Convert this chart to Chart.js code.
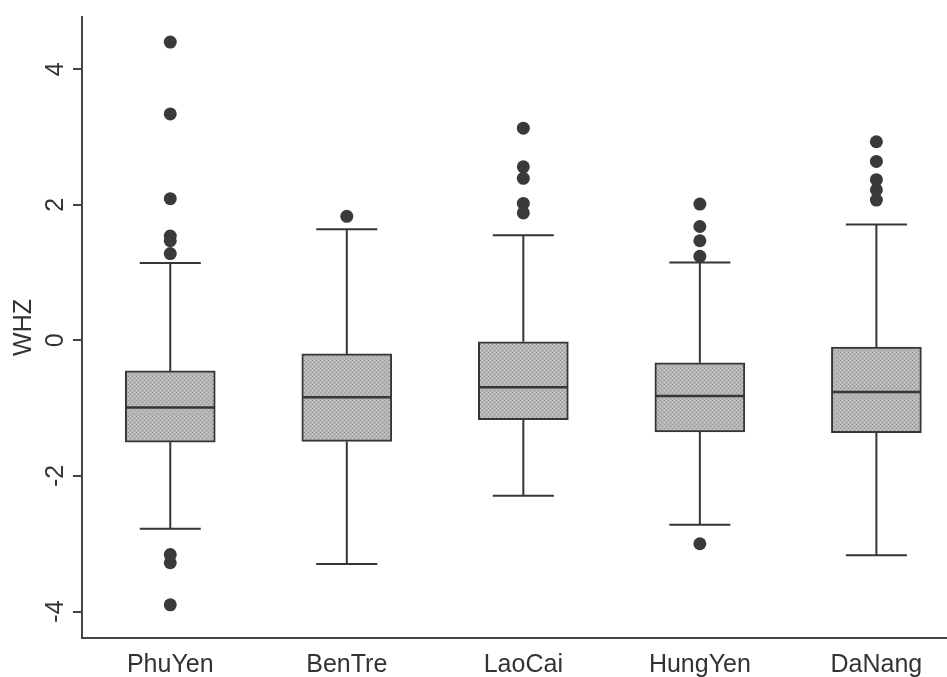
<!DOCTYPE html>
<html>
<head>
<meta charset="utf-8">
<script src="https://cdn.jsdelivr.net/npm/chart.js@4/dist/chart.umd.min.js"></script>
<style>
  html, body { margin: 0; padding: 0; background: #ffffff; }
  canvas { display: block; }
</style>
</head>
<body>
<canvas id="c" width="947" height="677"></canvas>
<script>
// Weight-for-height z-scores (WHZ) by province: five-number summaries and outliers
const categories    = ['PhuYen', 'BenTre', 'LaoCai', 'HungYen', 'DaNang'];
const lowerWhisker  = [-2.78, -3.30, -2.29, -2.72, -3.17];
const lowerQuartile = [-1.50, -1.49, -1.17, -1.35, -1.36];
const medianValue   = [-0.99, -0.84, -0.69, -0.82, -0.76];
const upperQuartile = [-0.45, -0.20, -0.02, -0.33, -0.10];
const upperWhisker  = [1.14, 1.64, 1.55, 1.15, 1.71];
const outlierValues = [
  [4.40, 3.34, 2.09, 1.54, 1.47, 1.28, -3.16, -3.28, -3.90],
  [1.83],
  [3.13, 2.56, 2.39, 2.02, 1.88],
  [2.01, 1.68, 1.47, 1.24, -3.00],
  [2.93, 2.64, 2.37, 2.22, 2.07]
];
const yTicks = [-4, -2, 0, 2, 4];

const FONT = { family: '"Liberation Sans", Arial, Helvetica, sans-serif', size: 25 };
const INK = '#363636';
const AXIS = '#454545';
const HALF_CAP = 0.173;   // half-width of whisker caps, in x units
const HALF_BOX = 0.25;    // half-width of the median bar, in x units

const canvas = document.getElementById('c');
const ctx = canvas.getContext('2d');

// Stippled grey fill for the boxes
function stipple() {
  const t = document.createElement('canvas');
  t.width = 4; t.height = 4;
  const g = t.getContext('2d');
  g.fillStyle = '#b5b5b5'; g.fillRect(0, 0, 4, 4);
  g.fillStyle = '#969696'; g.fillRect(0, 0, 1, 1); g.fillRect(2, 2, 1, 1);
  g.fillStyle = '#c6c6c6'; g.fillRect(2, 0, 1, 1); g.fillRect(0, 2, 1, 1);
  return ctx.createPattern(t, 'repeat');
}

// Turn a list of [start, end] segments into one broken polyline
function polyline(segs) {
  const pts = [];
  segs.forEach(([a, b]) => { pts.push(a, b, { x: a.x, y: null }); });
  return pts;
}

// Keep the plot area fixed: no extra room reserved for label overhang
function noOverhang(s) {
  s.paddingTop = 0; s.paddingBottom = 0; s.paddingLeft = 0; s.paddingRight = 0;
}

const boxes = categories.map((_, i) => ({ x: i + 1, y: [lowerQuartile[i], upperQuartile[i]] }));

const medianSegs = polyline(categories.map((_, i) => [
  { x: i + 1 - HALF_BOX, y: medianValue[i] }, { x: i + 1 + HALF_BOX, y: medianValue[i] }
]));

const whiskerSegs = polyline(categories.flatMap((_, i) => {
  const x = i + 1;
  return [
    [{ x, y: upperQuartile[i] }, { x, y: upperWhisker[i] }],
    [{ x, y: lowerQuartile[i] }, { x, y: lowerWhisker[i] }],
    [{ x: x - HALF_CAP, y: upperWhisker[i] }, { x: x + HALF_CAP, y: upperWhisker[i] }],
    [{ x: x - HALF_CAP, y: lowerWhisker[i] }, { x: x + HALF_CAP, y: lowerWhisker[i] }]
  ];
}));

const outlierPoints = outlierValues.flatMap((vals, i) => vals.map(v => ({ x: i + 1, y: v })));

new Chart(ctx, {
  type: 'bar',
  data: {
    datasets: [
      {
        type: 'scatter', label: 'median', data: medianSegs, showLine: true, spanGaps: false,
        borderColor: INK, borderWidth: 2.5, pointRadius: 0, order: 0
      },
      {
        type: 'bar', label: 'box', data: boxes, barThickness: 90,
        backgroundColor: stipple(), borderColor: INK, borderWidth: 2, borderSkipped: false, order: 1
      },
      {
        type: 'scatter', label: 'whiskers', data: whiskerSegs, showLine: true, spanGaps: false,
        borderColor: INK, borderWidth: 2, pointRadius: 0, order: 2
      },
      {
        type: 'scatter', label: 'outliers', data: outlierPoints,
        pointRadius: 6.5, pointBackgroundColor: '#3a3a3a', pointBorderWidth: 0, order: 3
      }
    ]
  },
  options: {
    responsive: false,
    animation: false,
    events: [],
    layout: { autoPadding: false, padding: { top: 17, left: 0, right: 0, bottom: 0 } },
    plugins: { legend: { display: false }, tooltip: { enabled: false } },
    scales: {
      x: {
        type: 'linear', min: 0.5, max: 5.4, offset: false,
        afterBuildTicks: s => { s.ticks = categories.map((_, i) => ({ value: i + 1 })); },
        afterFit: s => { s.height = 39; noOverhang(s); },
        grid: { display: false },
        border: { display: true, color: AXIS, width: 2 },
        ticks: {
          autoSkip: false, minRotation: 0, maxRotation: 0, padding: 4,
          color: '#333333', font: FONT,
          callback: v => categories[Math.round(v) - 1] ?? ''
        }
      },
      y: {
        type: 'linear', min: -4.39, max: 4.77,
        afterBuildTicks: s => { s.ticks = yTicks.map(v => ({ value: v })); },
        afterFit: s => { s.width = 82; noOverhang(s); },
        grid: { display: true, drawOnChartArea: false, drawTicks: true, tickLength: 9, color: AXIS, lineWidth: 2 },
        border: { display: true, color: AXIS, width: 2 },
        ticks: {
          minRotation: 90, maxRotation: 90, crossAlign: 'center', padding: 6,
          color: '#333333', font: FONT,
          callback: v => String(v)
        },
        title: {
          display: true, text: 'WHZ', color: '#333333', font: FONT,
          padding: { top: 9, bottom: 0 }
        }
      }
    }
  }
});
</script>
</body>
</html>
